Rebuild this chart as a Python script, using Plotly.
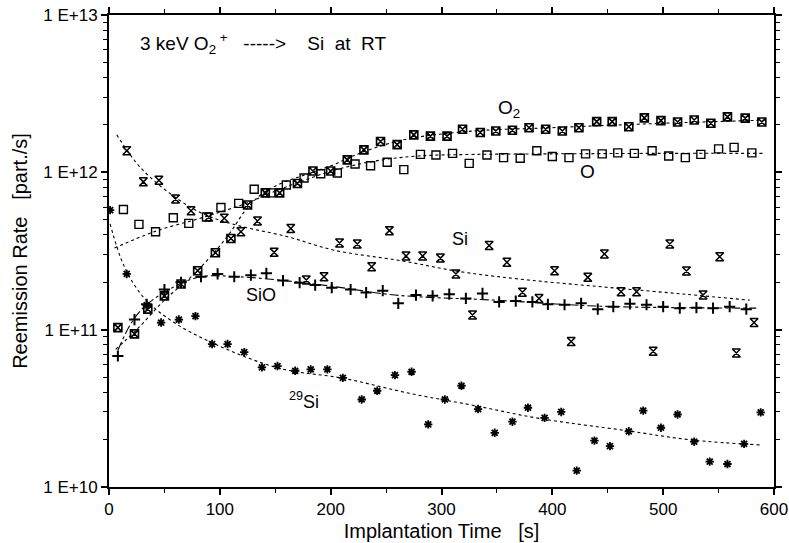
import numpy as np
import plotly.graph_objects as go

# ---- measured points (time in s, rate in part./s) ----
o2_time = [8, 23, 35, 50, 65, 80, 96, 110, 125, 141, 154, 170, 184, 200, 215, 230, 245, 260, 275, 290,
           305, 319, 335, 349, 364, 379, 394, 409, 424, 440, 454, 469, 483, 498, 513, 528, 543, 558, 574, 589]
o2_rate = [1.03e11, 9.4e10, 1.35e11, 1.64e11, 1.95e11, 2.37e11, 3.08e11, 3.8e11, 6.2e11, 7.4e11,
           7.4e11, 8.5e11, 1.02e12, 1.02e12, 1.2e12, 1.39e12, 1.57e12, 1.5e12, 1.73e12, 1.7e12,
           1.7e12, 1.88e12, 1.79e12, 1.83e12, 1.85e12, 1.92e12, 1.88e12, 1.83e12, 1.92e12, 2.1e12,
           2.1e12, 1.95e12, 2.22e12, 2.13e12, 2.09e12, 2.15e12, 2.05e12, 2.25e12, 2.21e12, 2.09e12]

o_time = [13, 27, 42, 58, 72, 88, 101, 117, 131, 146, 160, 176, 191, 206, 222, 236, 251, 266, 281, 295,
          310, 325, 341, 356, 371, 386, 400, 415, 430, 445, 459, 474, 490, 505, 520, 534, 550, 564, 580]
o_rate = [5.8e11, 4.67e11, 4.19e11, 5.14e11, 4.74e11, 5.2e11, 5.98e11, 6.35e11, 7.8e11, 7.4e11,
          8.3e11, 9.2e11, 9.8e11, 9.9e11, 1.13e12, 1.1e12, 1.16e12, 1.04e12, 1.3e12, 1.29e12,
          1.32e12, 1.14e12, 1.29e12, 1.24e12, 1.23e12, 1.37e12, 1.26e12, 1.24e12, 1.31e12, 1.31e12,
          1.33e12, 1.32e12, 1.37e12, 1.27e12, 1.24e12, 1.30e12, 1.41e12, 1.44e12, 1.33e12]

si_time = [16, 31, 45, 60, 74, 90, 104, 119, 134, 149, 164, 178, 194, 208, 224, 237, 253, 268, 283, 299,
           313, 328, 343, 359, 373, 388, 402, 417, 432, 447, 462, 476, 491, 506, 521, 536, 551, 566, 582]
si_rate = [1.37e12, 8.7e11, 8.9e11, 6.77e11, 5.7e11, 5.2e11, 5.1e11, 4.19e11, 4.9e11, 3.1e11,
           4.4e11, 2.07e11, 2.17e11, 3.56e11, 3.5e11, 2.51e11, 4.26e11, 2.94e11, 2.94e11, 2.85e11,
           2.26e11, 1.24e11, 3.43e11, 2.68e11, 1.73e11, 1.58e11, 2.37e11, 8.4e10, 2.15e11, 3.03e11,
           1.74e11, 1.74e11, 7.3e10, 3.5e11, 2.36e11, 1.66e11, 2.91e11, 7.1e10, 1.11e11]

sio_time = [8, 23, 34, 50, 65, 83, 98, 113, 128, 142, 157, 172, 186, 201, 218, 232, 247, 261, 277, 292,
            307, 322, 337, 352, 367, 382, 396, 411, 426, 441, 455, 470, 485, 500, 515, 530, 545, 560, 575]
sio_rate = [6.8e10, 1.16e11, 1.45e11, 1.8e11, 2.0e11, 2.17e11, 2.26e11, 2.17e11, 2.22e11, 2.28e11,
            2.05e11, 1.99e11, 1.92e11, 1.85e11, 1.8e11, 1.72e11, 1.77e11, 1.47e11, 1.66e11, 1.64e11,
            1.68e11, 1.58e11, 1.70e11, 1.5e11, 1.52e11, 1.5e11, 1.45e11, 1.44e11, 1.47e11, 1.35e11,
            1.4e11, 1.46e11, 1.44e11, 1.4e11, 1.37e11, 1.38e11, 1.37e11, 1.4e11, 1.35e11]

si29_time = [1, 16, 34, 47, 63, 78, 93, 107, 122, 138, 152, 168, 182, 197, 211, 228, 242, 258, 273, 288,
             303, 318, 333, 348, 364, 378, 393, 408, 422, 438, 452, 469, 482, 498, 513, 528, 542, 558, 573, 588]
si29_rate = [5.75e11, 2.26e11, 1.43e11, 1.11e11, 1.16e11, 1.22e11, 8.1e10, 8.1e10, 7.2e10, 5.76e10,
             5.87e10, 5.48e10, 5.59e10, 5.59e10, 4.94e10, 3.6e10, 4.09e10, 5.14e10, 5.4e10, 2.5e10,
             3.6e10, 4.4e10, 3.13e10, 2.21e10, 2.6e10, 3.19e10, 2.75e10, 3.0e10, 1.27e10, 1.97e10,
             1.82e10, 2.26e10, 3.06e10, 2.38e10, 2.89e10, 1.94e10, 1.45e10, 1.4e10, 1.88e10, 2.98e10]

# ---- fit curves ----
o2_fit_t = [6, 25, 50, 75, 95, 110, 122, 137, 155, 176, 203, 220, 264, 324, 398, 500, 595]
o2_fit_v = [7.5e10, 1.0e11, 1.54e11, 2.2e11, 3.1e11, 4.2e11, 5.6e11, 7.2e11, 8.5e11, 9.6e11,
            1.12e12, 1.27e12, 1.6e12, 1.82e12, 1.92e12, 2.05e12, 2.15e12]

o_fit_t = [5, 41, 86, 125, 150, 176, 203, 240, 279, 330, 398, 500, 590]
o_fit_v = [3.3e11, 4.2e11, 5.2e11, 6.4e11, 7.6e11, 8.9e11, 1.03e12, 1.18e12, 1.27e12, 1.3e12,
           1.31e12, 1.32e12, 1.32e12]

si_fit_t = [7, 29, 59, 86, 116, 161, 203, 264, 318, 378, 449, 520, 578]
si_fit_v = [1.73e12, 1.06e12, 7e11, 5.4e11, 4.6e11, 3.9e11, 3.2e11, 2.74e11, 2.33e11, 2.07e11,
            1.86e11, 1.68e11, 1.54e11]

sio_fit_t = [8, 20, 32, 56, 83, 116, 161, 203, 258, 348, 443, 584]
sio_fit_v = [7.4e10, 1.1e11, 1.4e11, 1.83e11, 2.17e11, 2.17e11, 2.04e11, 1.88e11, 1.66e11,
             1.54e11, 1.41e11, 1.37e11]

si29_fit_t = [1, 14, 32, 58, 94, 153, 212, 271, 329, 388, 467, 526, 588]
si29_fit_v = [4.7e11, 2.5e11, 1.58e11, 1.12e11, 8.2e10, 5.7e10, 4.9e10, 3.94e10, 3.3e10,
              2.73e10, 2.28e10, 1.99e10, 1.85e10]

y_tick_vals = [1e10, 1e11, 1e12, 1e13]
y_tick_text = ["1 E+10", "1 E+11", "1 E+12", "1 E+13"]

FONT = "Liberation Sans, Arial, sans-serif"
BLACK = "black"

fig = go.Figure()

# fit lines
fits = [(o2_fit_t, o2_fit_v, "dot"), (o_fit_t, o_fit_v, "dot"), (si_fit_t, si_fit_v, "dot"),
        (sio_fit_t, sio_fit_v, "dashdot"), (si29_fit_t, si29_fit_v, "dot")]
for t, v, dash in fits:
    fig.add_trace(go.Scatter(x=t, y=v, mode="lines", line_shape="spline",
                             line=dict(color=BLACK, width=1.1, dash=dash),
                             showlegend=False, hoverinfo="skip"))

# data markers
series = [
    (o2_time, o2_rate, "square-x-open", 8, 1.6, "O2"),
    (o_time, o_rate, "square-open", 8, 1.4, "O"),
    (si_time, si_rate, "hourglass-open", 8, 1.5, "Si"),
    (sio_time, sio_rate, "cross-thin-open", 8, 2, "SiO"),
    (si29_time, si29_rate, "asterisk-open", 7, 1.8, "29Si"),
]
for t, v, sym, size, lw, name in series:
    fig.add_trace(go.Scatter(x=t, y=v, mode="markers", name=name,
                             marker=dict(symbol=sym, size=size, color=BLACK,
                                         line=dict(color=BLACK, width=lw)),
                             showlegend=False))

# text labels on the plot
labels = [
    (26, 12.818, "3 keV O<sub>2</sub><sup> +</sup>&nbsp;&nbsp;&nbsp;-----&gt;&nbsp;&nbsp;&nbsp;&nbsp;Si&nbsp;&nbsp;at&nbsp;&nbsp;RT", "left", 19),
    (361, 12.405, "O<sub>2</sub>", "center", 19),
    (432, 12.004, "O", "center", 19),
    (317, 11.574, "Si", "center", 18),
    (137, 11.220, "SiO", "center", 18),
    (176, 10.552, "<sup>29</sup>Si", "center", 18),
]
for x, y, txt, anchor, fs in labels:
    fig.add_annotation(x=x, y=y, xref="x", yref="y", text=txt, showarrow=False,
                       xanchor=anchor, yanchor="middle",
                       font=dict(family=FONT, size=fs, color=BLACK))

fig.update_xaxes(range=[0, 600], tickvals=[0, 100, 200, 300, 400, 500, 600],
                 ticks="outside", ticklen=6, tickwidth=1.5, tickcolor=BLACK,
                 minor=dict(tickvals=[50, 150, 250, 350, 450, 550], ticks="outside",
                            ticklen=4, tickcolor=BLACK, tickwidth=1),
                 showline=True, linecolor=BLACK, linewidth=1.8, mirror="ticks",
                 showgrid=False, zeroline=False, automargin=False,
                 ticklabeloverflow="allow",
                 tickfont=dict(family=FONT, size=17, color=BLACK),
                 title=dict(text="Implantation Time&nbsp;&nbsp;&nbsp;[s]", standoff=6,
                            font=dict(family=FONT, size=20, color=BLACK)))

minor_y = [m * 10 ** e for e in range(10, 13) for m in range(2, 10)]
fig.update_yaxes(type="log", range=[10, 13], tickvals=y_tick_vals, ticktext=y_tick_text,
                 ticks="outside", ticklen=6, tickwidth=1.5, tickcolor=BLACK,
                 minor=dict(tickvals=minor_y, ticks="outside", ticklen=4,
                            tickcolor=BLACK, tickwidth=1),
                 showline=True, linecolor=BLACK, linewidth=1.8, mirror="ticks",
                 showgrid=False, zeroline=False, automargin=False,
                 ticklabeloverflow="allow",
                 tickfont=dict(family=FONT, size=17, color=BLACK),
                 title=dict(text="Reemission Rate&nbsp;&nbsp;&nbsp;[part./s]", standoff=10,
                            font=dict(family=FONT, size=20, color=BLACK)))

fig.update_layout(width=789, height=543,
                  margin=dict(l=109, r=15, t=15, b=56),
                  paper_bgcolor="white", plot_bgcolor="white",
                  showlegend=False)

# drop the default 8px page margin so the figure sits flush in the window
fig.write_html("out.html", config={"displayModeBar": False},
               post_script="document.body.style.margin='0';")
